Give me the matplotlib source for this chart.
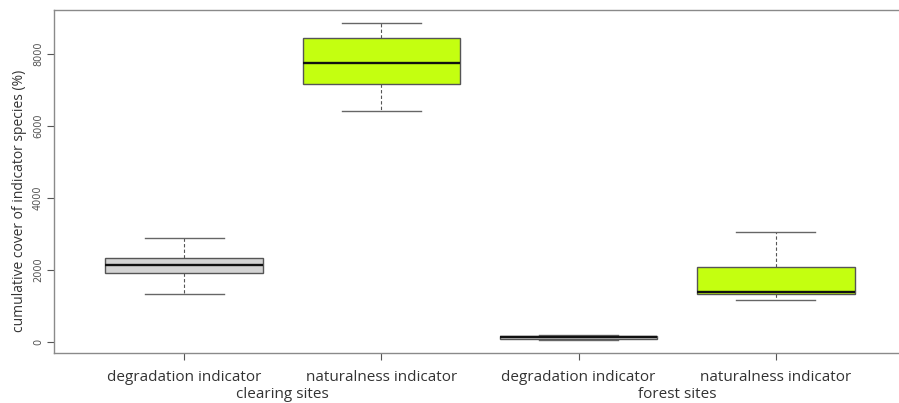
import matplotlib.pyplot as plt
import matplotlib.transforms as mtransforms

# boxplot summaries: cumulative cover of indicator species (%)
labels = ['degradation indicator', 'naturalness indicator',
          'degradation indicator', 'naturalness indicator']
sites = ['clearing sites', 'forest sites']
whislo = [1340, 6400, 60, 1160]
q1 = [1920, 7170, 85, 1335]
med = [2140, 7740, 135, 1400]
q3 = [2350, 8450, 175, 2095]
whishi = [2890, 8860, 205, 3050]
fills = ['#d3d3d3', '#c4ff10', '#d3d3d3', '#c4ff10']

stats = []
for i in range(len(labels)):
    stats.append(dict(label=labels[i], whislo=whislo[i], q1=q1[i], med=med[i],
                      q3=q3[i], whishi=whishi[i], fliers=[]))

fig = plt.figure(figsize=(8.99, 4.03), dpi=100)
ax = fig.add_axes([54/899, 1 - 353/403, 852/899, 343/403])

pos = [1, 2, 3, 4]
bp = ax.bxp(stats, positions=pos, widths=0.8, patch_artist=True,
            showfliers=False,
            boxprops=dict(edgecolor='#555555', linewidth=1.0),
            medianprops=dict(color='#111111', linewidth=1.7),
            whiskerprops=dict(color='#555555', linewidth=0.8, linestyle=(0, (3, 2))),
            capprops=dict(color='#666666', linewidth=1.0),
            capwidths=0.4)
for patch, c in zip(bp['boxes'], fills):
    patch.set_facecolor(c)

ax.set_xlim(0.34, 4.66)
ax.set_ylim(-296, 9213)
ax.set_yticks([0, 2000, 4000, 6000, 8000])
ax.set_xticks(pos)
ax.set_xticklabels(labels, fontfamily='Open Sans', fontsize=11, color='#333333')
ax.tick_params(axis='x', length=5, pad=7, color='#555555')
ax.tick_params(axis='y', length=5, labelsize=7, labelcolor='#555555',
               color='#555555', labelrotation=90, pad=3)
for t in ax.get_yticklabels():
    t.set_va('center')

ax.spines['right'].set_visible(False)
for s in ['left', 'top', 'bottom']:
    ax.spines[s].set_color('#8a8a8a')
    ax.spines[s].set_linewidth(1.0)

# site group labels under each pair of boxes
trans = mtransforms.blended_transform_factory(ax.transData, fig.transFigure)
ax.text(1.5, 1 - 395/403, sites[0], transform=trans, ha='center', va='center',
        fontfamily='Open Sans', fontsize=11, color='#333333')
ax.text(3.5, 1 - 395/403, sites[1], transform=trans, ha='center', va='center',
        fontfamily='Open Sans', fontsize=11, color='#333333')

fig.text(20/899, 1 - 201/403, 'cumulative cover of indicator species (%)',
         rotation=90, ha='center', va='center', fontfamily='Open Sans',
         fontsize=10, color='#333333')

fig.savefig('out.png', dpi=100)
